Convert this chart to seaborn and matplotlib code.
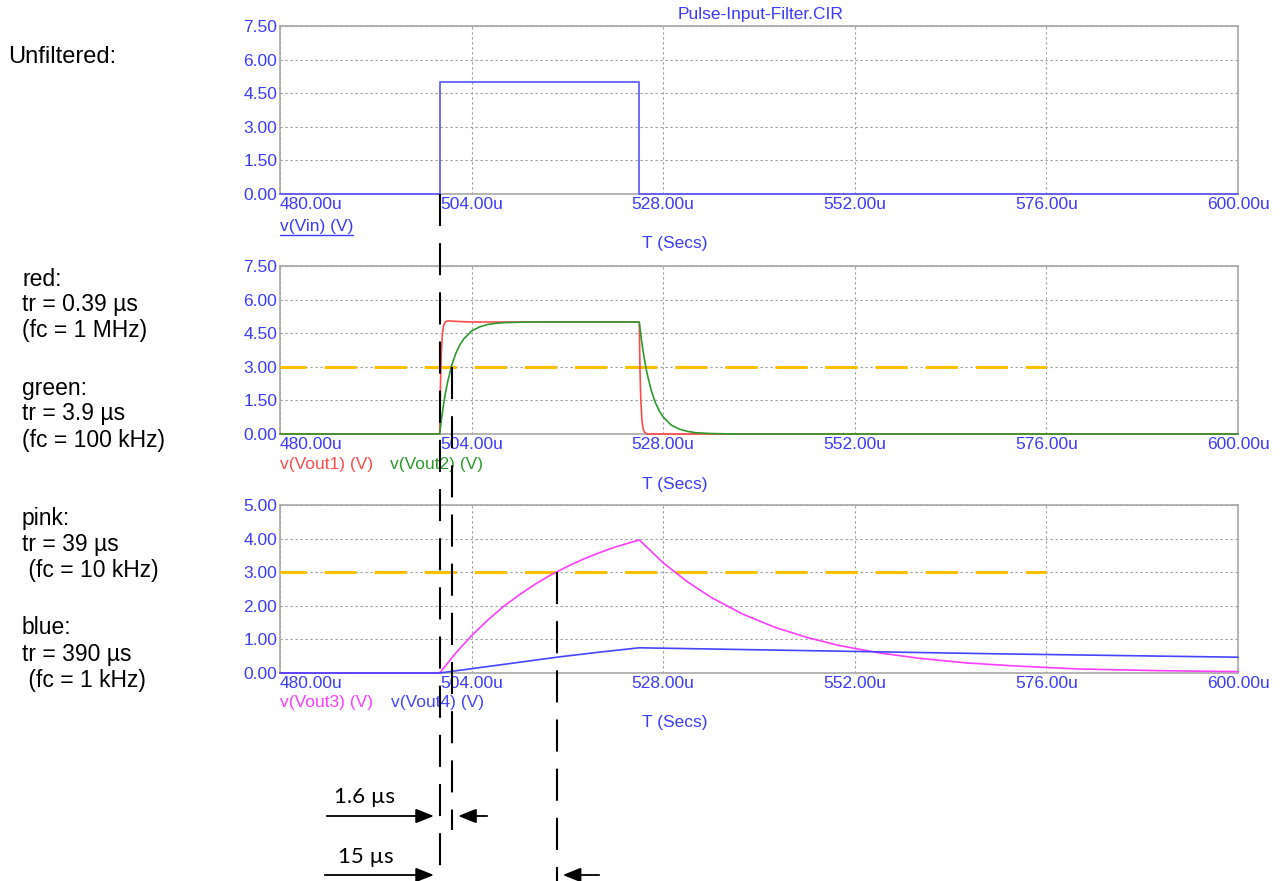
import matplotlib
matplotlib.use("Agg")
import matplotlib.pyplot as plt
from matplotlib.lines import Line2D
from matplotlib.patches import FancyArrowPatch
import seaborn as sns

# traces, time in microseconds, volts
t_vin = [480, 500, 500, 525, 525, 600]
v_vin = [0, 0, 5, 5, 0, 0]

t_out1 = [480, 500, 500.1, 500.2, 500.35, 500.5, 500.7, 501.0, 501.5, 502.5, 504, 510,
          525, 525.1, 525.2, 525.35, 525.5, 525.7, 526, 600]
v_out1 = [0, 0, 2.2, 3.6, 4.5, 4.85, 5.0, 5.05, 5.04, 5.02, 5.0, 5.0,
          5.0, 2.75, 1.45, 0.55, 0.22, 0.06, 0.0, 0.0]

t_out2 = [480, 500, 500.25, 500.5, 500.75, 501, 501.5, 502, 502.5, 503, 504, 505, 506, 507,
          508, 510, 512, 525, 525.25, 525.5, 525.75, 526, 526.5, 527, 527.5, 528, 529, 530,
          531, 532, 534, 537, 600]
v_out2 = [0, 0, 0.73, 1.35, 1.88, 2.33, 3.05, 3.58, 3.96, 4.24, 4.60, 4.78, 4.89, 4.94,
          4.97, 4.99, 5.0, 5.0, 4.27, 3.65, 3.12, 2.67, 1.95, 1.42, 1.04, 0.76, 0.40, 0.22,
          0.12, 0.06, 0.02, 0.0, 0.0]

t_out3 = [480, 500, 502, 504, 506, 508, 510, 512, 514, 516, 518, 520, 522, 525, 528, 531,
          534, 538, 542, 546, 550, 555, 560, 566, 572, 580, 590, 600]
v_out3 = [0, 0, 0.59, 1.11, 1.57, 1.98, 2.33, 2.65, 2.93, 3.17, 3.39, 3.58, 3.75, 3.96, 3.28,
          2.72, 2.25, 1.75, 1.36, 1.06, 0.82, 0.60, 0.44, 0.30, 0.21, 0.12, 0.07, 0.04]

t_out4 = [480, 500, 505, 510, 515, 520, 525, 540, 555, 570, 585, 600]
v_out4 = [0, 0, 0.16, 0.32, 0.48, 0.62, 0.75, 0.69, 0.63, 0.57, 0.52, 0.47]

threshold = 3.0
threshold_end = 576
cross_times = [500, 501.6, 514.7]   # dashed markers: pulse edge, green @3V, pink @3V

x_ticks = [480, 504, 528, 552, 576, 600]
y_ticks_a = [0, 1.5, 3, 4.5, 6, 7.5]
y_ticks_b = [0, 1, 2, 3, 4, 5]

left_notes = [("red:", 280), ("tr = 0.39 µs", 304), ("(fc = 1 MHz)", 330),
              ("green:", 388), ("tr = 3.9 µs", 414), ("(fc = 100 kHz)", 440),
              ("pink:", 518), ("tr = 39 µs", 544), (" (fc = 10 kHz)", 570),
              ("blue:", 628), ("tr = 390 µs", 654), (" (fc = 1 kHz)", 680)]

BLUE = "#3b3bff"
C_VIN = "#5555ff"
C_RED = "#ff4d4d"
C_GREEN = "#2e9a2e"
C_PINK = "#ff3dff"
C_BLUE4 = "#4545ff"
C_ORANGE = "#ffc000"

sns.set_style("white")
plt.rcParams["font.family"] = ["Liberation Sans", "DejaVu Sans"]

W, H = 1282, 881
fig = plt.figure(figsize=(W / 100, H / 100), dpi=100)


def box(top, bottom, left=280, right=1238):
    return [left / W, 1 - bottom / H, (right - left) / W, (bottom - top) / H]


def fxy(x, y):
    return x / W, 1 - y / H


def style(ax, yticks):
    ax.set_xlim(x_ticks[0], x_ticks[-1])
    ax.set_ylim(yticks[0], yticks[-1])
    ax.set_xticks(x_ticks)
    ax.set_yticks(yticks)
    ax.set_xticklabels([f"{x:.2f}u" for x in x_ticks])
    ax.set_yticklabels([f"{y:.2f}" for y in yticks])
    ax.tick_params(length=0, labelsize=12.5, labelcolor=BLUE, pad=2)
    ax.get_xticklabels()[0].set_ha("left")
    for s in ax.spines.values():
        s.set_color("#a8a8a8")
        s.set_linewidth(1.2)
    ax.grid(True, color="#9a9a9a", linestyle=(0, (2, 2.5)), linewidth=0.8)
    ax.set_xlabel("")
    ax.set_ylabel("")


def trace(ax, t, v, color):
    sns.lineplot(x=t, y=v, ax=ax, color=color, estimator=None, sort=False,
                 linewidth=1.2, clip_on=False, zorder=3)


ax1 = fig.add_axes(box(26, 194))
ax2 = fig.add_axes(box(266, 434))
ax3 = fig.add_axes(box(505, 673))

trace(ax1, t_vin, v_vin, C_VIN)
style(ax1, y_ticks_a)

ax2.plot([x_ticks[0], threshold_end], [threshold, threshold], color=C_ORANGE,
         linewidth=2.2, linestyle=(2, (10.5, 5.9)), zorder=2.6)
trace(ax2, t_out1, v_out1, C_RED)
trace(ax2, t_out2, v_out2, C_GREEN)
style(ax2, y_ticks_a)

ax3.plot([x_ticks[0], threshold_end], [threshold, threshold], color=C_ORANGE,
         linewidth=2.2, linestyle=(2, (10.5, 5.9)), zorder=2.6)
trace(ax3, t_out3, v_out3, C_PINK)
trace(ax3, t_out4, v_out4, C_BLUE4)
style(ax3, y_ticks_b)

# header, axis names, trace names
fs = 12.5
fig.text(*fxy(761, 14), "Pulse-Input-Filter.CIR", color=BLUE, fontsize=fs, ha="center", va="center")
for yy in (243, 484, 723):
    fig.text(*fxy(675, yy), "T (Secs)", color=BLUE, fontsize=fs, ha="center", va="center")
vin_lbl = fig.text(*fxy(280, 226), "v(Vin) (V)", color=BLUE, fontsize=fs, ha="left", va="center")
fig.text(*fxy(280, 465), "v(Vout1) (V)", color=C_RED, fontsize=fs, ha="left", va="center")
fig.text(*fxy(390, 465), "v(Vout2) (V)", color=C_GREEN, fontsize=fs, ha="left", va="center")
fig.text(*fxy(280, 703), "v(Vout3) (V)", color=C_PINK, fontsize=fs, ha="left", va="center")
fig.text(*fxy(391, 703), "v(Vout4) (V)", color=C_BLUE4, fontsize=fs, ha="left", va="center")

fig.text(*fxy(8, 57), "Unfiltered:", fontsize=17, color="black", ha="left", va="center")
for txt, yy in left_notes:
    fig.text(*fxy(22, yy), txt, fontsize=16.5, color="black", ha="left", va="center")

# dashed vertical markers
to_fig = fig.transFigure.inverted()


def fig_point(ax, t, v):
    return to_fig.transform(ax.transData.transform((t, v)))


x1, y1 = fig_point(ax1, cross_times[0], 0)
x2, y2 = fig_point(ax2, cross_times[1], threshold)
x3, y3 = fig_point(ax3, cross_times[2], threshold)
dash = (0, (15.4, 8.2))
for xx, ytop, ybot in [(x1, y1, 0.0), (x2, y2, 1 - 830 / H), (x3, y3, 0.0)]:
    fig.add_artist(Line2D([xx, xx], [ytop, ybot], color="black", linewidth=1.5,
                          linestyle=dash, zorder=5))

# dimension arrows
def arrow(xa, xb, ypx):
    fig.add_artist(FancyArrowPatch((xa, 1 - ypx / H), (xb, 1 - ypx / H),
                                   arrowstyle="-|>,head_length=0.55,head_width=0.22",
                                   mutation_scale=20, color="black", linewidth=1.3))


gap = 3 / W
arrow(324 / W, x1 - gap, 816)
arrow(490 / W, x2 + gap, 816)
arrow(322 / W, x1 - gap, 875)
arrow(602 / W, x3 + gap, 875)
fig.text(*fxy(365, 797), "1.6 µs", family=["Lato", "DejaVu Sans"], fontsize=16, color="black",
         ha="center", va="center")
fig.text(*fxy(366, 857), "15 µs", family=["Lato", "DejaVu Sans"], fontsize=16, color="black",
         ha="center", va="center")

# underline under the v(Vin) name, as in the original
fig.canvas.draw()
bb = vin_lbl.get_window_extent(fig.canvas.get_renderer())
uy = (bb.y0 - 1) / H
fig.add_artist(Line2D([bb.x0 / W, bb.x1 / W], [uy, uy], color=BLUE, linewidth=1.0))

fig.savefig("out.png", dpi=100)
